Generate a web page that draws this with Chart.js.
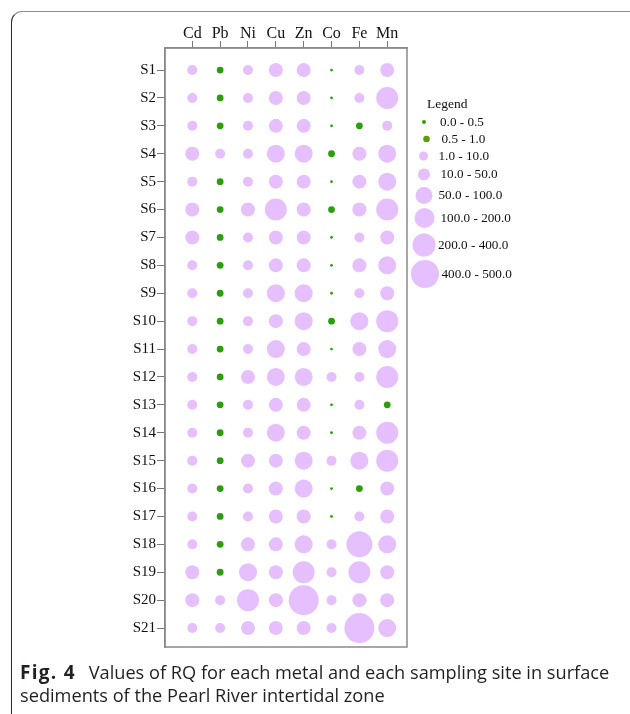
<!DOCTYPE html>
<html>
<head>
<meta charset="utf-8">
<title>RQ by metal and sampling site</title>
<script src="https://cdn.jsdelivr.net/npm/chart.js@4.4.1/dist/chart.umd.min.js"></script>
<style>
  html, body { margin: 0; padding: 0; background: #fff; width: 630px; height: 714px; overflow: hidden; }
  #frame {
    position: absolute; left: 11px; top: 11px; width: 640px; height: 720px;
    box-sizing: border-box; border-top: 1.3px solid #8c8c8c; border-left: 1.3px solid #2b2b2b;
    border-radius: 11px;
  }
  #wrap { position: absolute; left: 0; top: 0; width: 630px; height: 714px; }
  #caption {
    position: absolute; left: 20px; top: 661px; width: 610px;
    font-family: "Open Sans", "Noto Sans", sans-serif; font-size: 18.2px; line-height: 22.5px;
    color: #231f20; white-space: nowrap;
  }
  #caption b { font-weight: 700; font-size: 19px; letter-spacing: 1.3px; margin-right: 8px; }
</style>
</head>
<body>
<div id="frame"></div>
<div id="wrap"><canvas id="chart"></canvas></div>
<div id="caption"><b>Fig. 4</b> Values of RQ for each metal and each sampling site in surface<br>sediments of the Pearl River intertidal zone</div>

<script>
// Metals (columns) and sampling sites (rows)
const metals = ["Cd", "Pb", "Ni", "Cu", "Zn", "Co", "Fe", "Mn"];
const sites = ["S1", "S2", "S3", "S4", "S5", "S6", "S7", "S8", "S9", "S10", "S11",
               "S12", "S13", "S14", "S15", "S16", "S17", "S18", "S19", "S20", "S21"];

// RQ class limits and their labels
const rqBreaks = [0, 0.5, 1, 10, 50, 100, 200, 400, 500];
const rqLabels = ["0.0 - 0.5", "0.5 - 1.0", "1.0 - 10.0", "10.0 - 50.0",
                  "50.0 - 100.0", "100.0 - 200.0", "200.0 - 400.0", "400.0 - 500.0"];

// Estimated RQ per metal, sites S1..S21
const rqCd = [5, 5, 5, 25, 5, 25, 25, 5, 5, 5, 5, 5, 5, 5, 5, 5, 5, 5, 25, 25, 5];
const rqPb = [0.7, 0.7, 0.7, 5, 0.7, 0.7, 0.7, 0.7, 0.7, 0.7, 0.7, 0.7, 0.7, 0.7, 0.7, 0.7, 0.7, 0.7, 0.7, 5, 5];
const rqNi = [5, 5, 5, 5, 5, 25, 5, 5, 5, 5, 5, 25, 5, 5, 25, 5, 5, 25, 70, 150, 25];
const rqCu = [25, 25, 25, 70, 25, 150, 25, 25, 70, 25, 70, 70, 25, 70, 25, 25, 25, 25, 25, 25, 25];
const rqZn = [25, 25, 25, 70, 25, 25, 25, 25, 70, 70, 25, 70, 25, 25, 70, 70, 25, 70, 150, 450, 25];
const rqCo = [0.3, 0.3, 0.3, 0.7, 0.3, 0.7, 0.3, 0.3, 0.3, 0.7, 0.3, 5, 0.3, 0.3, 5, 0.3, 0.3, 5, 5, 5, 5];
const rqFe = [5, 5, 0.7, 25, 25, 25, 5, 25, 5, 70, 25, 5, 5, 25, 70, 0.7, 5, 300, 150, 25, 450];
const rqMn = [25, 150, 5, 70, 70, 150, 25, 70, 25, 150, 70, 150, 0.7, 150, 150, 25, 25, 70, 25, 25, 70];
const rqByMetal = [rqCd, rqPb, rqNi, rqCu, rqZn, rqCo, rqFe, rqMn];

// Styling per RQ class
const plotRadius   = [1.4, 3.4, 5, 7, 9, 11, 13, 15];
const legendRadius = [2, 3.3, 4.5, 6, 8.5, 10, 11.5, 14];
const LILAC = "#e6c0fe";
const plotColor   = ["#2c9e0c", "#2c9e0c", LILAC, LILAC, LILAC, LILAC, LILAC, LILAC];
const legendColor = ["#2c9e0c", "#5c9c0c", LILAC, LILAC, LILAC, LILAC, LILAC, LILAC];

function rqClass(v) {
  for (let i = 0; i < rqBreaks.length - 2; i++) if (v < rqBreaks[i + 1]) return i;
  return rqBreaks.length - 2;
}

const SERIF = "'Liberation Serif', 'Times New Roman', serif";

const datasets = metals.map((m, mi) => {
  const pts = rqByMetal[mi].map((v, si) => ({ x: mi, y: si + 1, r: plotRadius[rqClass(v)], rq: v }));
  return {
    label: m,
    data: pts,
    backgroundColor: pts.map(p => plotColor[rqClass(p.rq)]),
    borderWidth: 0,
    hoverRadius: 0
  };
});

// Frame around the plot area and the class legend on the right
const framePlugin = {
  id: "frameAndLegend",
  afterDraw(chart) {
    const { ctx, chartArea: a } = chart;
    ctx.save();
    ctx.strokeStyle = "#8a8a8a";
    ctx.lineWidth = 1.5;
    ctx.strokeRect(a.left, a.top, a.right - a.left, a.bottom - a.top);

    const lg = { titleX: 427, titleY: 104, cx: [424, 426.5, 423.5, 424, 424, 424.5, 424, 425],
                 cy: [122, 139, 156, 174.5, 195.5, 218, 245, 274],
                 tx: [440, 441.5, 438.5, 440.5, 438.5, 440.5, 438, 441.5] };
    ctx.fillStyle = "#111";
    ctx.font = "13.5px " + SERIF;
    ctx.textBaseline = "middle";
    ctx.textAlign = "left";
    ctx.fillText("Legend", lg.titleX, lg.titleY);
    rqLabels.forEach((lab, i) => {
      ctx.beginPath();
      ctx.fillStyle = legendColor[i];
      ctx.arc(lg.cx[i], lg.cy[i], legendRadius[i], 0, Math.PI * 2);
      ctx.fill();
      ctx.fillStyle = "#111";
      ctx.font = "13.2px " + SERIF;
      ctx.fillText(lab, lg.tx[i], lg.cy[i] + 0.5);
    });
    ctx.restore();
  }
};

new Chart(document.getElementById("chart"), {
  type: "bubble",
  data: { datasets },
  options: {
    responsive: true,
    maintainAspectRatio: false,
    devicePixelRatio: 1,
    animation: false,
    events: [],
    layout: { padding: { left: 0, top: 0, right: 223, bottom: 67 } },
    plugins: { legend: { display: false }, tooltip: { enabled: false } },
    scales: {
      x: {
        type: "linear",
        position: "top",
        min: -0.98,
        max: 7.71,
        afterBuildTicks: s => { s.ticks = metals.map((_, i) => ({ value: i })); },
        afterFit: s => { s.height = 48; },
        ticks: {
          callback: v => metals[v],
          autoSkip: false, maxRotation: 0, padding: -2,
          color: "#111", font: { family: SERIF, size: 16 }
        },
        grid: { drawOnChartArea: false, drawTicks: true, tickLength: 7, color: "#777", lineWidth: 1 },
        border: { display: true, color: "#8a8a8a", width: 1.5 }
      },
      y: {
        type: "linear",
        reverse: true,
        min: 0.21,
        max: 21.68,
        afterBuildTicks: s => { s.ticks = sites.map((_, i) => ({ value: i + 1 })); },
        afterFit: s => { s.width = 165; },
        ticks: {
          callback: v => sites[v - 1],
          autoSkip: false, padding: 1,
          color: "#111", font: { family: SERIF, size: 15 }
        },
        grid: { drawOnChartArea: false, drawTicks: true, tickLength: 8, color: "#777", lineWidth: 1 },
        border: { display: true, color: "#8a8a8a", width: 1.5 }
      }
    }
  },
  plugins: [framePlugin]
});
</script>
</body>
</html>
